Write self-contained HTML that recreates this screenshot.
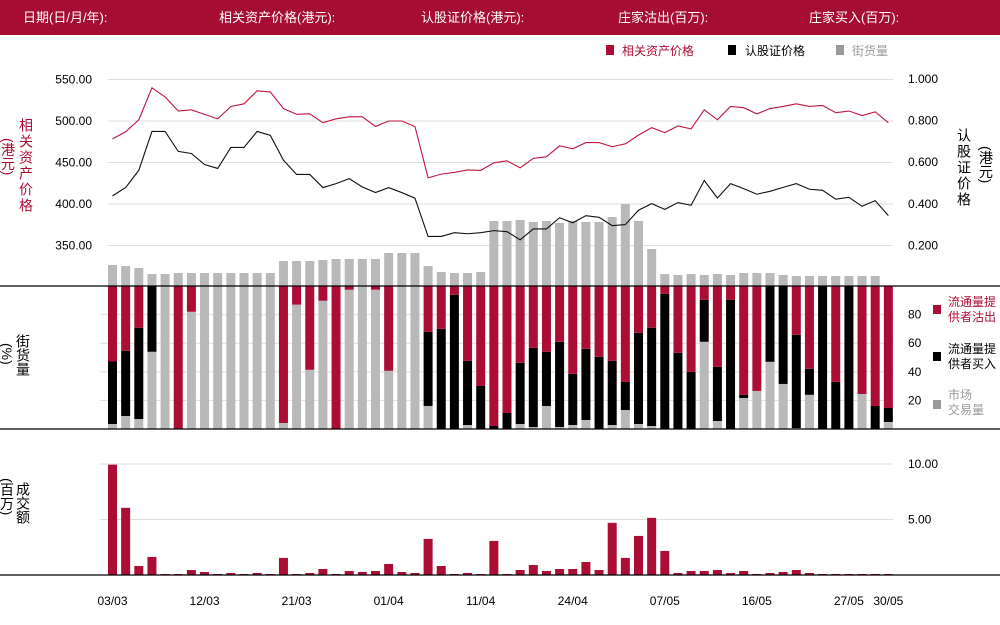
<!DOCTYPE html>
<html><head><meta charset="utf-8">
<style>
body{margin:0;background:#fff;width:1000px;height:620px;overflow:hidden;font-family:"Liberation Sans","Noto Sans CJK SC",sans-serif;}
svg text{font-family:"Liberation Sans","Noto Sans CJK SC",sans-serif;}
</style></head>
<body>
<svg id="chart" width="1000" height="620" xmlns="http://www.w3.org/2000/svg">
<rect x="0" y="0" width="1000" height="35" fill="#a50e32"/>
<g fill="#fff" font-size="13">
<text x="23" y="22">日期(日/月/年):</text>
<text x="219" y="22">相关资产价格(港元):</text>
<text x="421" y="22">认股证价格(港元):</text>
<text x="618" y="22">庄家沽出(百万):</text>
<text x="809" y="22">庄家买入(百万):</text>
</g>
<g font-size="12">
<rect x="606" y="45" width="8" height="10" fill="#ab0d35"/>
<text x="622" y="55" fill="#ab0d35">相关资产价格</text>
<rect x="728" y="45" width="8" height="10" fill="#000"/>
<text x="745" y="55" fill="#000">认股证价格</text>
<rect x="836" y="45" width="8" height="10" fill="#999"/>
<text x="852" y="55" fill="#999">街货量</text>
</g>
<g id="grid"></g>
<g id="marks"></g>
<g id="axes"></g>
<g font-size="14">
<text x="26" y="118" fill="#ab0d35" style="writing-mode:vertical-rl;letter-spacing:2px">相关资产价格</text>
<text x="8" y="138" fill="#ab0d35" style="writing-mode:vertical-rl">(港元)</text>
<text x="964" y="128" fill="#000" style="writing-mode:vertical-rl;letter-spacing:2px">认股证价格</text>
<text x="986" y="146" fill="#000" style="writing-mode:vertical-rl">(港元)</text>
<text x="23" y="334" fill="#000" style="writing-mode:vertical-rl">街货量</text>
<text x="7" y="343" fill="#000" style="writing-mode:vertical-rl">(%)</text>
<text x="23" y="482" fill="#000" style="writing-mode:vertical-rl">成交额</text>
<text x="7" y="478" fill="#000" style="writing-mode:vertical-rl">(百万)</text>
</g>
<g font-size="12">
<rect x="933" y="305" width="8" height="9" fill="#ab0d35"/>
<text x="948" y="306" fill="#ab0d35">流通量提</text>
<text x="948" y="321" fill="#ab0d35">供者沽出</text>
<rect x="933" y="352" width="8" height="9" fill="#000"/>
<text x="948" y="353" fill="#000">流通量提</text>
<text x="948" y="368" fill="#000">供者买入</text>
<rect x="933" y="400" width="8" height="9" fill="#999"/>
<text x="948" y="399" fill="#999">市场</text>
<text x="948" y="414" fill="#999">交易量</text>
</g>
</svg>
<script>
const dateLabels = ["03/03","12/03","21/03","01/04","11/04","24/04","07/05","16/05","27/05","30/05"];
const dateLabelIndex = [0,7,14,21,28,35,42,49,56,59];
const priceTicks = [550,500,450,400,350];
const warrantTicks = [1.0,0.8,0.6,0.4,0.2];
const pctTicks = [80,60,40,20];
const turnoverTicks = [10,5];
const underlyingPrice = [478.5,487,501.5,540,529,512,513.5,508,502.5,517.5,520.7,536.4,535,515,508,508.7,498,502.6,505,505,493.4,500,500,493.4,431.5,436,438,441,440.5,449.6,452,443.6,455,457,470,466.5,474,474,469,472.5,483,492,486,494,490.5,513.5,501.5,517.5,516,508.6,515,517.5,520.7,517.5,518.7,510,512,506.6,511,498];
const warrantPrice = [0.438,0.478,0.561,0.748,0.748,0.652,0.642,0.589,0.570,0.671,0.671,0.748,0.729,0.610,0.541,0.541,0.478,0.497,0.521,0.481,0.454,0.478,0.454,0.427,0.243,0.243,0.261,0.256,0.261,0.271,0.266,0.227,0.279,0.279,0.333,0.309,0.343,0.335,0.295,0.300,0.369,0.401,0.373,0.406,0.393,0.512,0.428,0.497,0.473,0.446,0.460,0.479,0.497,0.470,0.465,0.422,0.431,0.388,0.415,0.343];
const outstanding = [21,20,18,12,12,13,13,13,13,13,13,13,13,25,25,25,26,27,27,27,27,33,33,33,20,14,13,13,14,65,65,66,64,65,63,65,64,64,69,82,65,37,12,11,12,11,12,11,13,13,13,11,10,10,10,10,10,10,10,0];
const mmSellPct = [52.8,45.3,29.2,0,0,100,18,0,0,0,0,0,0,95.8,13,58.6,10.3,100,2.6,0,2.6,59.3,0,0,32,29.9,6.1,52.3,69.9,97.9,88.8,53.7,43.2,46,39,61.4,43.9,49.5,52.3,67,32.7,29.2,5.4,46.7,60,9.6,56.5,9.6,76.2,73.4,0,0,34.1,57.9,0,67,0,75.5,83.9,85.3];
const mmBuyPct = [43.7,45.6,63.8,46,0,0,0,0,0,0,0,0,0,0,0,0,0,0,0,0,0,0,0,0,51.9,70.1,93.9,44.9,30.1,2.1,11.2,42.8,55.4,37.9,59.6,35.8,49.8,50.5,44.9,19.6,63.8,68.7,94.6,53.3,40,29.4,37.9,90.4,2.1,0,53,68.5,65.2,18.2,100,33,100,0,16.1,9.8];
const marketPct = [3.5,9.1,7,54,100,0,82,100,100,100,100,100,100,4.2,87,41.4,89.7,0,97.4,100,97.4,40.7,100,100,16.1,0,0,2.8,0,0,0,3.5,1.4,16.1,1.4,2.8,6.3,0,2.8,13.3,3.5,2.1,0,0,0,61,5.6,0,21.7,26.6,47,31.5,0.7,23.9,0,0,0,24.5,0,4.9];
const turnover = [9.94,6.05,0.81,1.63,0.09,0.09,0.45,0.27,0.09,0.18,0.09,0.18,0.09,1.54,0.09,0.18,0.54,0.09,0.36,0.27,0.36,0.99,0.27,0.18,3.25,0.81,0.09,0.18,0.09,3.07,0.09,0.45,0.9,0.36,0.54,0.54,1.17,0.45,4.7,1.54,3.52,5.15,2.17,0.18,0.36,0.36,0.45,0.18,0.36,0.09,0.18,0.27,0.45,0.18,0.09,0.09,0.09,0.09,0.09,0.09];

const NS="http://www.w3.org/2000/svg";
const RED="#ab0d35", GRAY="#b9b9b9";
const X0=108, STEP=13.15, BW=9;
function xLeft(i){return X0+i*STEP;}
function xCenter(i){return X0+i*STEP+BW/2;}
function yPrice(v){return 121-(v-500)*41.5/50;}
function yWarrant(v){return 287-v*208/1.0;}
function yOut(v){return 286-v;}
function yPct(p){return 429-p*1.43;}
function yTurn(v){return 575-v*11.1;}
function mk(tag,attrs,parent){const e=document.createElementNS(NS,tag);for(const k in attrs)e.setAttribute(k,attrs[k]);parent.appendChild(e);return e;}
const grid=document.getElementById('grid'), marks=document.getElementById('marks'), axes=document.getElementById('axes');

priceTicks.forEach((t,i)=>{
  const y=yPrice(t);
  const l=mk('line',{x1:108,x2:893,y1:y,y2:y,stroke:'#dedede','stroke-width':1},grid);
  
  
  const tx=mk('text',{x:92,y:y+4,'text-anchor':'end','font-size':12,fill:'#000'},axes);
  tx.textContent=t.toFixed(2);
  
  
});
warrantTicks.forEach(t=>{
  const y=yWarrant(t);
  const tx=mk('text',{x:908,y:y+4,'font-size':12,fill:'#000'},axes);
  tx.textContent=t.toFixed(3);
  
  
});
pctTicks.forEach(t=>{
  const y=yPct(t);
  const l=mk('line',{x1:100,x2:893,y1:y,y2:y,stroke:'#dedede','stroke-width':1},grid);
  
  
  const tx=mk('text',{x:908,y:y+4,'font-size':12,fill:'#000'},axes);
  tx.textContent=t;
  
  
});
turnoverTicks.forEach(t=>{
  const y=yTurn(t);
  const l=mk('line',{x1:100,x2:893,y1:y,y2:y,stroke:'#dedede','stroke-width':1},grid);
  
  
  const tx=mk('text',{x:908,y:y+4,'font-size':12,fill:'#000'},axes);
  tx.textContent=t.toFixed(2);
  
  
});

outstanding.forEach((v,i)=>{
  if(v<=0)return;
  const r=mk('rect',{x:xLeft(i),y:yOut(v),width:BW,height:v,fill:GRAY},marks);
  
  
});
for(let i=0;i<mmSellPct.length;i++){
  const g=marketPct[i], b=mmBuyPct[i], s=mmSellPct[i];
  if(g>0){const r=mk('rect',{x:xLeft(i),y:yPct(g),width:BW,height:yPct(0)-yPct(g),fill:GRAY},marks);
    
    }
  if(b>0){const r=mk('rect',{x:xLeft(i),y:yPct(g+b),width:BW,height:yPct(g)-yPct(g+b),fill:'#000'},marks);
    
    }
  if(s>0){const r=mk('rect',{x:xLeft(i),y:yPct(g+b+s),width:BW,height:yPct(g+b)-yPct(g+b+s),fill:RED},marks);
    
    }
}
turnover.forEach((v,i)=>{
  const r=mk('rect',{x:xLeft(i),y:yTurn(v),width:BW,height:yTurn(0)-yTurn(v),fill:RED},marks);
  
  
});
const pl=mk('polyline',{points:underlyingPrice.map((v,i)=>xCenter(i)+','+yPrice(v)).join(' '),fill:'none',stroke:'#c0153f','stroke-width':1.1},marks);


const wl=mk('polyline',{points:warrantPrice.map((v,i)=>xCenter(i)+','+yWarrant(v)).join(' '),fill:'none',stroke:'#111','stroke-width':1.1},marks);



[286,429,575].forEach(y=>{
  const l=mk('line',{x1:0,x2:1000,y1:y,y2:y,stroke:'#000','stroke-width':1.3},axes);
  
  
});
dateLabels.forEach((d,k)=>{
  const tx=mk('text',{x:xCenter(dateLabelIndex[k]),y:605,'text-anchor':'middle','font-size':12,fill:'#000'},axes);
  tx.textContent=d;
  
  
});
</script>
</body></html>
